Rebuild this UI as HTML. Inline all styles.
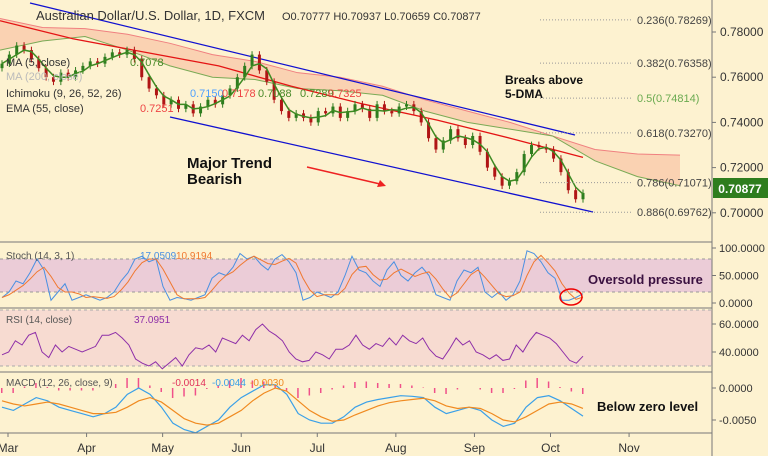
<!DOCTYPE html>
<html><head><meta charset="utf-8"><style>
body{margin:0;background:#fff;}
svg{display:block;font-family:"Liberation Sans",sans-serif;}
</style></head><body>
<svg id="chart" width="768" height="463" xmlns="http://www.w3.org/2000/svg">
<rect x="0" y="0" width="768" height="456" fill="#fdf2d0"/>
<g id="cloud"></g><g id="main"></g><g id="ind"></g>
<line x1="0" y1="242" x2="712" y2="242" stroke="#777"/>
<line x1="0" y1="308" x2="712" y2="308" stroke="#777"/>
<line x1="0" y1="372" x2="712" y2="372" stroke="#777"/>
<line x1="0" y1="433" x2="712" y2="433" stroke="#777"/>
<line x1="712" y1="0" x2="712" y2="456" stroke="#777"/>
<g font-size="11" fill="#333">
<text x="36" y="20" font-size="13">Australian Dollar/U.S. Dollar, 1D, FXCM</text>
<text x="282" y="20" font-size="11">O0.70777  H0.70937  L0.70659  C0.70877</text>
<text x="6" y="66">MA (5, close)</text><text x="130" y="66" fill="#4a8a2a">0.7078</text>
<text x="6" y="80" fill="#bbb">MA (200, close)</text>
<text x="6" y="97">Ichimoku (9, 26, 52, 26)</text>
<text x="190" y="97" fill="#4fa0ff">0.7150</text><text x="222" y="97" fill="#e44">0.7178</text><text x="258" y="97" fill="#4a8a2a">0.7088</text><text x="300" y="97" fill="#4a8a2a">0.7289</text><text x="328" y="97" fill="#e44">0.7325</text>
<text x="6" y="112">EMA (55, close)</text><text x="140" y="112" fill="#e44">0.7251</text>
</g>
<g font-size="11" fill="#444" id="fib"></g>
<g font-size="12" fill="#333" id="yaxis"></g>
<rect x="713" y="178" width="55" height="20" fill="#2e7d1e"/>
<text x="740" y="193" text-anchor="middle" fill="#fff" font-size="12" font-weight="bold">0.70877</text>
<g font-weight="bold" fill="#111">
<text x="505" y="84" font-size="12">Breaks above</text>
<text x="505" y="98" font-size="12">5-DMA</text>
<text x="187" y="168" font-size="15">Major Trend</text>
<text x="187" y="184" font-size="15">Bearish</text>
<text x="588" y="284" font-size="13" fill="#3a1040">Oversold pressure</text>
<text x="597" y="411" font-size="13">Below zero level</text>
</g>
<line x1="307" y1="167" x2="380" y2="184" stroke="#e22" stroke-width="1.5"/>
<polygon points="386,186 377,187 380,180" fill="#e22"/>
<ellipse cx="571" cy="297" rx="11" ry="8" fill="none" stroke="#e00" stroke-width="1.5"/>
<g font-size="11" fill="#555" id="ilabels"></g>
<g font-size="12" fill="#333" id="xaxis"></g>
</svg>
<script>
const closes=[.766,.770,.774,.772,.768,.764,.760,.758,.762,.760,.763,.765,
.767,.766,.769,.771,.770,.772,.768,.760,.755,.752,
.748,.750,.746,.748,.744,.747,.750,.748,.752,.755,.760,
.765,.770,.763,.758,.750,.745,.742,.744,.742,.740,.745,
.744,.747,.742,.745,.748,.746,.742,.748,.745,.744,
.747,.748,.745,.740,.733,.728,.732,.737,.733,.730,.734,
.727,.720,.716,.712,.714,.718,.726,.730,.729,.728,
.724,.718,.710,.706,.7088];
const ema55=[.785,.777,.771,.765,.756,.748,.741,.733,.7245];
const cloudTop=[.786,.782,.7815,.779,.775,.770,.767,.762,.760,.756,.750,.745,.740,.734,.728,.726,.7255];
const cloudBot=[.772,.776,.778,.772,.765,.760,.759,.755,.754,.752,.745,.740,.737,.734,.723,.716,.712];
const fibLevels=["0.236(0.78269)","0.382(0.76358)","0.5(0.74814)","0.618(0.73270)","0.786(0.71071)","0.886(0.69762)"];
const fibPrices=[.7827,.7636,.7481,.7327,.7107,.6976];
const priceTicks=[.78,.76,.74,.72,.70];
const months=["Mar","Apr","May","Jun","Jul","Aug","Sep","Oct","Nov"];
const monthDays=[0,31,61,92,122,153,184,214,245];
const stochK=[10,20,40,35,55,80,60,5,20,35,5,10,15,10,5,10,20,40,55,80,85,75,80,30,5,10,8,5,10,15,45,55,50,65,90,80,85,70,60,80,88,75,55,5,10,20,15,10,20,50,85,60,55,40,30,60,75,50,40,55,65,50,15,10,5,40,60,55,65,20,10,20,5,15,40,95,90,75,55,45,5,5,10,17];
const rsi=[38,40,48,45,52,54,40,36,45,40,44,42,40,42,44,52,52,54,50,45,35,32,30,33,28,32,36,30,38,43,42,45,40,50,48,46,52,48,56,60,55,52,48,40,35,33,34,40,38,35,42,42,45,52,45,42,46,44,50,45,52,48,46,50,42,37,35,42,50,45,48,40,38,35,38,34,35,45,40,48,54,52,50,46,40,34,32,37];
const macd=[-3,-3.5,-2.5,-1.5,-2,-3,-3.5,-4,-4.5,-4,-3,-1,0,-1,-3,-5.5,-6.5,-7,-6,-5,-3,-1.5,-0.5,0.5,0.5,-1,-4,-5,-5.5,-5.5,-4.5,-3,-2.2,-1.8,-1.5,-1.2,-1.3,-1.5,-3,-4,-3.5,-3,-3.5,-5,-6,-5.5,-3,-1.5,-1.2,-2,-3.2,-4.4];
const signal=[-2,-2.5,-2.8,-2.5,-2.2,-2.5,-3,-3.5,-4,-4,-3.8,-3,-2,-1.5,-2.2,-3.5,-4.8,-5.5,-5.8,-5.5,-4.5,-3.5,-2,-0.8,0,-0.5,-2,-3.5,-4.5,-5.2,-5,-4.2,-3.5,-2.8,-2.3,-2,-1.8,-1.6,-2,-2.8,-3.2,-3,-3.2,-4,-5,-5.3,-4.5,-3.5,-2.5,-2.2,-2.5,-3.2];

const NS="http://www.w3.org/2000/svg";
function mk(tag,attrs,parent){const e=document.createElementNS(NS,tag);for(const k in attrs)e.setAttribute(k,attrs[k]);parent.appendChild(e);return e;}
const X0=2,X1=583;
const yP=p=>32+(0.78-p)/0.02*45.2;
const xi=(i,n)=>X0+i*(X1-X0)/(n-1);
const xDay=d=>8+d*2.535;
const main=document.getElementById('main'),cloud=document.getElementById('cloud'),ind=document.getElementById('ind');
let pts=[];cloudTop.forEach((v,i)=>pts.push([i*680/(cloudTop.length-1),yP(v)]));
let pb=[];cloudBot.forEach((v,i)=>pb.push([i*680/(cloudBot.length-1),yP(v)]));
let poly=mk('polygon',{points:pts.concat(pb.slice().reverse()).map(p=>p.join(',')).join(' '),fill:'#f9c9aa',opacity:'0.8'},cloud);


let l1=mk('polyline',{points:pts.map(p=>p.join(',')).join(' '),fill:'none',stroke:'#f08080'},cloud);


let l2=mk('polyline',{points:pb.map(p=>p.join(',')).join(' '),fill:'none',stroke:'#7aaa55'},cloud);


const fib=document.getElementById('fib');
fibPrices.forEach((p,i)=>{const y=yP(p);
 let ln=mk('line',{x1:540,y1:y-6,x2:633,y2:y-6,stroke:'#999','stroke-dasharray':'1,2'},fib);
 
 
 let t=mk('text',{x:637,y:y-2,fill:i==2?'#6aaa50':'#444'},fib);t.textContent=fibLevels[i];
 
 });
const ya=document.getElementById('yaxis');
priceTicks.forEach(p=>{const y=yP(p);mk('line',{x1:712,y1:y,x2:716,y2:y,stroke:'#777'},ya);
 let t=mk('text',{x:720,y:y+4},ya);t.textContent=p.toFixed(5);
 
 });
let tl=mk('line',{x1:30,y1:3,x2:575,y2:135,stroke:'#1010d0','stroke-width':1.3},main);


let tl2=mk('line',{x1:170,y1:117,x2:593,y2:212,stroke:'#1010d0','stroke-width':1.3},main);


let ep=ema55.map((v,i)=>(i*X1/(ema55.length-1))+','+yP(v)).join(' ');
let el=mk('polyline',{points:ep,fill:'none',stroke:'#e41414','stroke-width':1.3},main);


const n=closes.length;
closes.forEach((c,i)=>{const o=i?closes[i-1]:c-.002;const x=xi(i,n);
 const hi=Math.max(o,c)+.0015,lo=Math.min(o,c)-.0015,col=c>=o?'#2e7d1e':'#b01515';
 const g=mk('g',{},main);
 
 
 mk('line',{x1:x,y1:yP(hi),x2:x,y2:yP(lo),stroke:col},g);
 mk('rect',{x:x-1.5,y:yP(Math.max(o,c)),width:3,height:Math.max(1,yP(Math.min(o,c))-yP(Math.max(o,c))),fill:col},g);});
let ma=closes.map((c,i)=>{const s=closes.slice(Math.max(0,i-2),i+1);return xi(i,n)+','+yP(s.reduce((a,b)=>a+b)/s.length);}).join(' ');
let ml=mk('polyline',{points:ma,fill:'none',stroke:'#3d8a22','stroke-width':1.5},main);


const yS=v=>303-v*0.55;
let sb=mk('rect',{x:0,y:yS(80),width:712,height:yS(20)-yS(80),fill:'#e8c6d8',opacity:'0.85'},ind);


[80,20].forEach(v=>mk('line',{x1:0,y1:yS(v),x2:712,y2:yS(v),stroke:'#999','stroke-dasharray':'3,3'},ind));
const sn=stochK.length;
let sk=mk('polyline',{points:stochK.map((v,i)=>xi(i,sn)+','+yS(v)).join(' '),fill:'none',stroke:'#4a90e2'},ind);


let sd=mk('polyline',{points:stochK.map((v,i)=>{const s=stochK.slice(Math.max(0,i-2),i+1);return xi(i,sn)+','+yS(s.reduce((a,b)=>a+b)/s.length);}).join(' '),fill:'none',stroke:'#f07830'},ind);


const yR=v=>352-(v-40)*1.4;
let rb=mk('rect',{x:0,y:yR(70),width:712,height:yR(30)-yR(70),fill:'#f6d8d0',opacity:'0.9'},ind);


[70,30].forEach(v=>mk('line',{x1:0,y1:yR(v),x2:712,y2:yR(v),stroke:'#aaa','stroke-dasharray':'3,3'},ind));
const rn=rsi.length;
let rl=mk('polyline',{points:rsi.map((v,i)=>xi(i,rn)+','+yR(v)).join(' '),fill:'none',stroke:'#8e2fa8'},ind);


const yM=v=>388-v*6.4;const mn=macd.length;
macd.forEach((m,i)=>{const h=(m-signal[i])*5;const x=xi(i,mn);
 let b=mk('rect',{x:x-1,y:Math.min(388,388-h),width:1.5,height:Math.abs(h),fill:'#f0508a'},ind);
 
 });
let ml2=mk('polyline',{points:macd.map((v,i)=>xi(i,mn)+','+yM(v)).join(' '),fill:'none',stroke:'#3aa0e8','stroke-width':1.2},ind);


let sl=mk('polyline',{points:signal.map((v,i)=>xi(i,mn)+','+yM(v)).join(' '),fill:'none',stroke:'#f08a20','stroke-width':1.2},ind);


const il=document.getElementById('ilabels');
[['Stoch (14, 3, 1)',6,259,'#555'],['17.0509',140,259,'#4a90e2'],['10.9194',176,259,'#f07830'],
 ['RSI (14, close)',6,323,'#555'],['37.0951',134,323,'#8e2fa8'],
 ['MACD (12, 26, close, 9)',6,386,'#555'],['-0.0014',172,386,'#e0305a'],['-0.0044',212,386,'#3aa0e8'],['-0.0030',250,386,'#f08a20']].forEach(a=>{
 let t=mk('text',{x:a[1],y:a[2],fill:a[3],'font-size':10},il);t.textContent=a[0];
 
 });
[['100.0000',yS(100)],['50.0000',yS(50)],['0.0000',yS(0)],['60.0000',yR(60)],['40.0000',yR(40)],['0.0000',yM(0)],['-0.0050',yM(-5)]].forEach(a=>{
 mk('line',{x1:712,y1:a[1],x2:716,y2:a[1],stroke:'#777'},il);
 let t=mk('text',{x:719,y:a[1]+4,fill:'#333','font-size':11},il);t.textContent=a[0];
 
 });
const xa=document.getElementById('xaxis');
months.forEach((m,i)=>{const x=xDay(monthDays[i]);
 mk('line',{x1:x,y1:433,x2:x,y2:437,stroke:'#777'},xa);
 let t=mk('text',{x:x,y:452,'text-anchor':'middle'},xa);t.textContent=m;
 
 });
</script>
</body></html>
